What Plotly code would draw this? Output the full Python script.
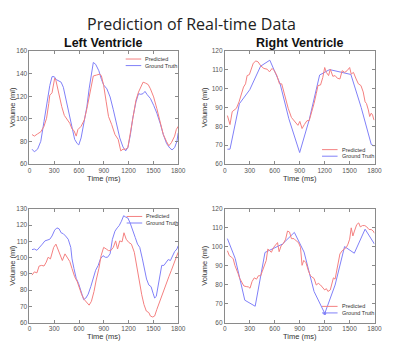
import plotly.graph_objects as go

# ---------------- data ----------------
# Left ventricle, top (ms, ml)
lv1_gt_t = [31, 59, 98, 137, 176, 215, 246, 273, 300, 324, 344, 383, 410, 449, 488, 519, 547, 578, 597, 625,
            664, 695, 722, 750, 773, 801, 840, 871, 898, 937, 976, 1015, 1054, 1093, 1132, 1164, 1191, 1222,
            1250, 1289, 1320, 1347, 1375, 1398, 1425, 1464, 1503, 1542, 1582, 1620, 1660, 1699, 1726, 1757,
            1785, 1800]
lv1_gt_v = [73, 70.7, 73, 80, 97.6, 115, 129.5, 137.4, 137.4, 134.8, 134, 132.5, 128, 115, 103.5, 92, 81.7,
            78, 76.8, 83, 97.6, 110.7, 126.6, 141, 150, 148.4, 142.6, 135, 130, 126.6, 119.4, 108, 94.7, 83,
            75, 71.5, 74.4, 86, 100.5, 115, 122.3, 121.7, 122.3, 124.3, 121.4, 118, 112, 105, 96, 86, 78, 74,
            72.4, 74.4, 80, 87.5]
lv1_pr_t = [31, 59, 98, 137, 176, 207, 234, 246, 273, 293, 305, 320, 344, 371, 391, 422, 449, 488, 515, 539,
            566, 586, 625, 664, 695, 722, 750, 773, 812, 851, 871, 898, 929, 957, 996, 1035, 1074, 1105, 1132,
            1164, 1191, 1222, 1250, 1289, 1320, 1347, 1375, 1406, 1437, 1464, 1503, 1542, 1582, 1620, 1660,
            1687, 1718, 1757, 1777, 1800]
lv1_pr_v = [86, 84.6, 86.6, 88.4, 93.3, 100.5, 113.6, 121, 123, 131, 136, 134, 125, 118, 110.7, 103, 100, 96,
            91, 89.5, 84.6, 90.4, 93.3, 99, 109, 119.4, 129.5, 138, 138.8, 139.7, 138, 129.5, 115, 102, 94.7,
            86, 81.7, 71.5, 73, 73, 74.4, 87.5, 102, 116.5, 123.7, 128, 132.5, 131.6, 130.4, 126.6, 119.4,
            109, 96, 86, 79.7, 76, 78.8, 84.6, 90.4, 93.3]

# Right ventricle, top
rv1_gt_t = [31, 62, 175, 300, 430, 541, 665, 770, 900, 1015, 1140, 1260, 1516, 1640, 1761, 1800]
rv1_gt_v = [67.8, 67.8, 92, 99.5, 112, 115.2, 102.6, 84, 66, 83.5, 107.3, 110.2, 107.6, 90, 70.3, 69.4]
rv1_pr_t = [31, 62, 89, 113, 140, 171, 198, 225, 249, 268, 295, 315, 342, 373, 400, 432, 470, 509, 537, 568,
            595, 626, 657, 684, 723, 762, 801, 840, 879, 902, 929, 956, 988, 1015, 1042, 1073, 1100, 1120,
            1151, 1178, 1201, 1221, 1248, 1268, 1299, 1326, 1353, 1384, 1411, 1442, 1470, 1501, 1520, 1547,
            1579, 1606, 1637, 1664, 1687, 1703, 1726, 1742, 1761, 1777, 1792, 1800]
rv1_pr_v = [85.7, 80.9, 87.8, 88.7, 89.6, 93, 96.5, 100.9, 102.6, 107, 107.5, 110.4, 113.6, 114.8, 114.3,
            112.2, 110.8, 110.4, 109, 110.8, 109.6, 107, 102.6, 102.6, 95.7, 89.6, 84.7, 82.6, 80.5, 82.6,
            78.8, 80.9, 83, 83, 87, 92.2, 97.4, 101.7, 102, 106, 111.3, 108.7, 107, 110.4, 106.6, 107, 105.6,
            105.2, 109.6, 108.7, 109.6, 111.3, 107.8, 108.7, 105.2, 102.6, 101.7, 98.3, 93, 92.2, 88.7, 85.2,
            87, 86, 83.5, 83.5]

# Left ventricle, bottom
lv2_gt_t = [31, 59, 90, 125, 156, 187, 215, 246, 273, 305, 332, 359, 383, 410, 437, 469, 500, 515, 539, 566,
            594, 625, 656, 683, 711, 742, 773, 801, 832, 859, 890, 918, 945, 976, 1004, 1035, 1062, 1086, 1113,
            1140, 1164, 1191, 1218, 1250, 1281, 1308, 1335, 1367, 1394, 1417, 1445, 1472, 1496, 1515, 1535,
            1554, 1578, 1601, 1628, 1656, 1679, 1706, 1730, 1757, 1785, 1800]
lv2_gt_v = [104.9, 105.3, 104.5, 106.3, 108.3, 110.3, 110.9, 111.3, 113.3, 116.9, 118.3, 117.7, 115.3, 114.7,
            113.3, 111.3, 106.3, 99.2, 93.2, 87.2, 84.1, 79.1, 74.1, 75.1, 77.5, 82.1, 87.6, 92.2, 95.2, 99.2,
            101.2, 100.2, 100.2, 102.3, 111.3, 116.3, 118.3, 119.7, 122.4, 125.8, 125, 124.4, 121.4, 117.3,
            112.3, 108.3, 106.3, 99.2, 92.2, 86.8, 83.1, 82.1, 78.1, 75.1, 76.1, 81.1, 88.8, 95.2, 95.2, 96.8,
            98.8, 98.2, 101.2, 103.7, 105.3, 107.3]
lv2_pr_t = [31, 59, 90, 117, 148, 176, 203, 226, 254, 273, 293, 320, 344, 371, 398, 430, 457, 488, 515, 547,
            578, 605, 633, 664, 695, 722, 750, 781, 808, 840, 867, 898, 929, 957, 984, 1015, 1043, 1066, 1093,
            1121, 1144, 1171, 1203, 1234, 1269, 1296, 1328, 1359, 1386, 1414, 1445, 1464, 1492, 1515, 1542,
            1570, 1601, 1628, 1660, 1687, 1718, 1746, 1777, 1800]
lv2_pr_v = [89.2, 91.2, 90.6, 94.8, 95.2, 94.8, 97.2, 100.2, 99.2, 103.3, 106.3, 108.3, 105.3, 102.3, 98.2,
            102.3, 100.2, 97.6, 93.2, 88.2, 85.2, 81.1, 77.1, 74.1, 72.1, 70.7, 73.1, 79.1, 86.2, 93.2, 101.2,
            106.3, 105.3, 104.3, 104.3, 106.3, 110.3, 105.3, 110.3, 109.7, 115.3, 111.3, 109.3, 108.3, 103.3,
            95.2, 85.2, 77.1, 71.1, 67.1, 66.1, 64, 63.4, 64, 68.1, 72.1, 77.1, 81.1, 85.2, 88.2, 92.2, 96.2,
            100.2, 103.3]

# Right ventricle, bottom
rv2_gt_t = [31, 125, 240, 365, 483, 607, 692, 836, 953, 1073, 1202, 1326, 1440, 1557, 1687, 1800]
rv2_gt_v = [104.3, 93.8, 71.8, 68.6, 97, 99.7, 101.4, 107.6, 97.2, 76.4, 64.8, 79.8, 100.1, 96.6, 109.3, 101.4]
rv2_pr_t = [31, 54, 82, 101, 121, 140, 159, 179, 206, 229, 257, 284, 303, 327, 354, 381, 404, 432, 451, 470,
            498, 517, 537, 560, 587, 614, 634, 653, 677, 704, 731, 754, 778, 801, 832, 859, 886, 910, 929, 949,
            976, 1003, 1026, 1046, 1073, 1100, 1124, 1151, 1178, 1201, 1221, 1240, 1268, 1287, 1306, 1326,
            1345, 1365, 1384, 1411, 1435, 1462, 1481, 1501, 1520, 1540, 1559, 1586, 1610, 1629, 1656, 1683,
            1707, 1734, 1761, 1785, 1800]
rv2_pr_v = [97.9, 95.3, 94.5, 93.6, 90.2, 88.5, 85.9, 83.3, 80.7, 79.3, 79, 78.8, 78.1, 81.6, 83.6, 82.9,
            84.7, 84.7, 87.1, 89.3, 92.8, 98.8, 97.9, 97.1, 99.7, 101.4, 102.2, 97.4, 100.5, 101.7, 104, 108.3,
            107.8, 104.3, 104.3, 103.1, 102.2, 99.7, 90.2, 92.8, 91.6, 87.6, 85, 84.1, 83.3, 79.8, 80.7, 79.8,
            78.5, 77.2, 77.9, 76.4, 77.2, 80.2, 83.6, 82.9, 86.7, 91, 96.2, 97.9, 98.8, 99.7, 101.4, 104, 110,
            105.7, 108.3, 111.7, 112.6, 110.5, 111.2, 111.2, 110.5, 109.1, 109.1, 108.3, 107.1]

x_ticks = [0, 300, 600, 900, 1200, 1500, 1800]
y_ranges = {"lv1": [60, 160], "rv1": [60, 120], "lv2": [60, 130], "rv2": [60, 120]}
y_dticks = {"lv1": 20, "rv1": 10, "lv2": 10, "rv2": 10}
titles = {"lv1": "Left Ventricle", "rv1": "Right Ventricle"}
series_names = ["Predicted", "Ground Truth"]

# ---------------- styling / layout ----------------
# The page body has an 8px default margin, so the figure is drawn 8px in from
# the window's top-left corner; size it to fill the rest of the 400x351 window.
OFF = 8
W, H = 400 - OFF, 351 - OFF
RED = "rgb(244,128,128)"
BLUE = "rgb(128,128,248)"
AX = "#8a8a8a"
TICKC = "#555555"

def px_x(p):
    return (p - OFF) / W

def px_y(p):
    return 1 - (p - OFF) / H

panels = {
    "lv1": dict(ax="", x=(27, 180), y=(48, 163), leg=(126, 56)),
    "rv1": dict(ax="2", x=(228, 382), y=(48, 163), leg=(328, 148.5)),
    "lv2": dict(ax="3", x=(27, 180), y=(209, 325), leg=(127, 216.7)),
    "rv2": dict(ax="4", x=(228, 382), y=(209, 325), leg=(328, 308.5)),
}
data = {
    "lv1": (lv1_pr_t, lv1_pr_v, lv1_gt_t, lv1_gt_v),
    "rv1": (rv1_pr_t, rv1_pr_v, rv1_gt_t, rv1_gt_v),
    "lv2": (lv2_pr_t, lv2_pr_v, lv2_gt_t, lv2_gt_v),
    "rv2": (rv2_pr_t, rv2_pr_v, rv2_gt_t, rv2_gt_v),
}

fig = go.Figure()
shapes = []
annotations = []
layout = dict(
    width=W, height=H, margin=dict(l=0, r=0, t=0, b=0),
    paper_bgcolor="white", plot_bgcolor="white", showlegend=False,
    font=dict(family="Liberation Sans, Arial, sans-serif", color=TICKC),
)

for key, p in panels.items():
    a = p["ax"]
    xa, ya = "x" + a, "y" + a
    pr_t, pr_v, gt_t, gt_v = data[key]
    fig.add_trace(go.Scatter(x=gt_t, y=gt_v, mode="lines", name=series_names[1],
                             line=dict(color=BLUE, width=1), xaxis=xa, yaxis=ya))
    fig.add_trace(go.Scatter(x=pr_t, y=pr_v, mode="lines", name=series_names[0],
                             line=dict(color=RED, width=1), xaxis=xa, yaxis=ya))
    if key == "rv2":
        i = gt_v.index(min(gt_v))
        fig.add_trace(go.Scatter(x=[gt_t[i]], y=[gt_v[i]], mode="markers",
                                 marker=dict(color=BLUE, size=3), xaxis=xa, yaxis=ya,
                                 hoverinfo="skip"))

    common = dict(showline=True, linecolor=AX, linewidth=1, mirror="ticks", ticks="inside",
                  ticklen=3, tickcolor=AX, showgrid=False, zeroline=False,
                  tickfont=dict(size=6.5, color=TICKC))
    layout["xaxis" + a] = dict(common, domain=[px_x(p["x"][0]), px_x(p["x"][1])],
                               range=[0, 1800], tickvals=x_ticks, anchor=ya,
                               title=dict(text="Time (ms)", font=dict(size=7.5, color="#333"), standoff=1))
    layout["yaxis" + a] = dict(common, domain=[px_y(p["y"][1]), px_y(p["y"][0])],
                               range=y_ranges[key], dtick=y_dticks[key], anchor=xa,
                               title=dict(text="Volume (ml)", font=dict(size=7.5, color="#333"), standoff=3))

    # legend box drawn inside each panel
    lx, ly = p["leg"]
    for j, (col, name) in enumerate([(RED, series_names[0]), (BLUE, series_names[1])]):
        yy = ly + j * 6.7
        shapes.append(dict(type="line", xref="paper", yref="paper",
                           x0=px_x(lx), x1=px_x(lx + 16), y0=px_y(yy), y1=px_y(yy),
                           line=dict(color=col, width=1)))
        annotations.append(dict(text=name, xref="paper", yref="paper", x=px_x(lx + 18), y=px_y(yy),
                                xanchor="left", yanchor="middle", showarrow=False,
                                font=dict(size=5.5, color="#333")))

    if key in titles:
        cx = (p["x"][0] + p["x"][1]) / 2
        annotations.append(dict(text="<b>" + titles[key] + "</b>", xref="paper", yref="paper",
                                x=px_x(cx), y=px_y(40), xanchor="center", yanchor="middle",
                                showarrow=False, font=dict(size=12.5, color="#111",
                                                           family="Liberation Sans, Arial, sans-serif")))

annotations.append(dict(text="Prediction of Real-time Data", xref="paper", yref="paper",
                        x=px_x(194), y=1.0, xanchor="center", yanchor="top", showarrow=False,
                        borderpad=0,
                        font=dict(size=16, color="#222", family="Open Sans, Noto Sans, sans-serif")))

layout["shapes"] = shapes
layout["annotations"] = annotations
fig.update_layout(**layout)
fig.write_html("out.html")
